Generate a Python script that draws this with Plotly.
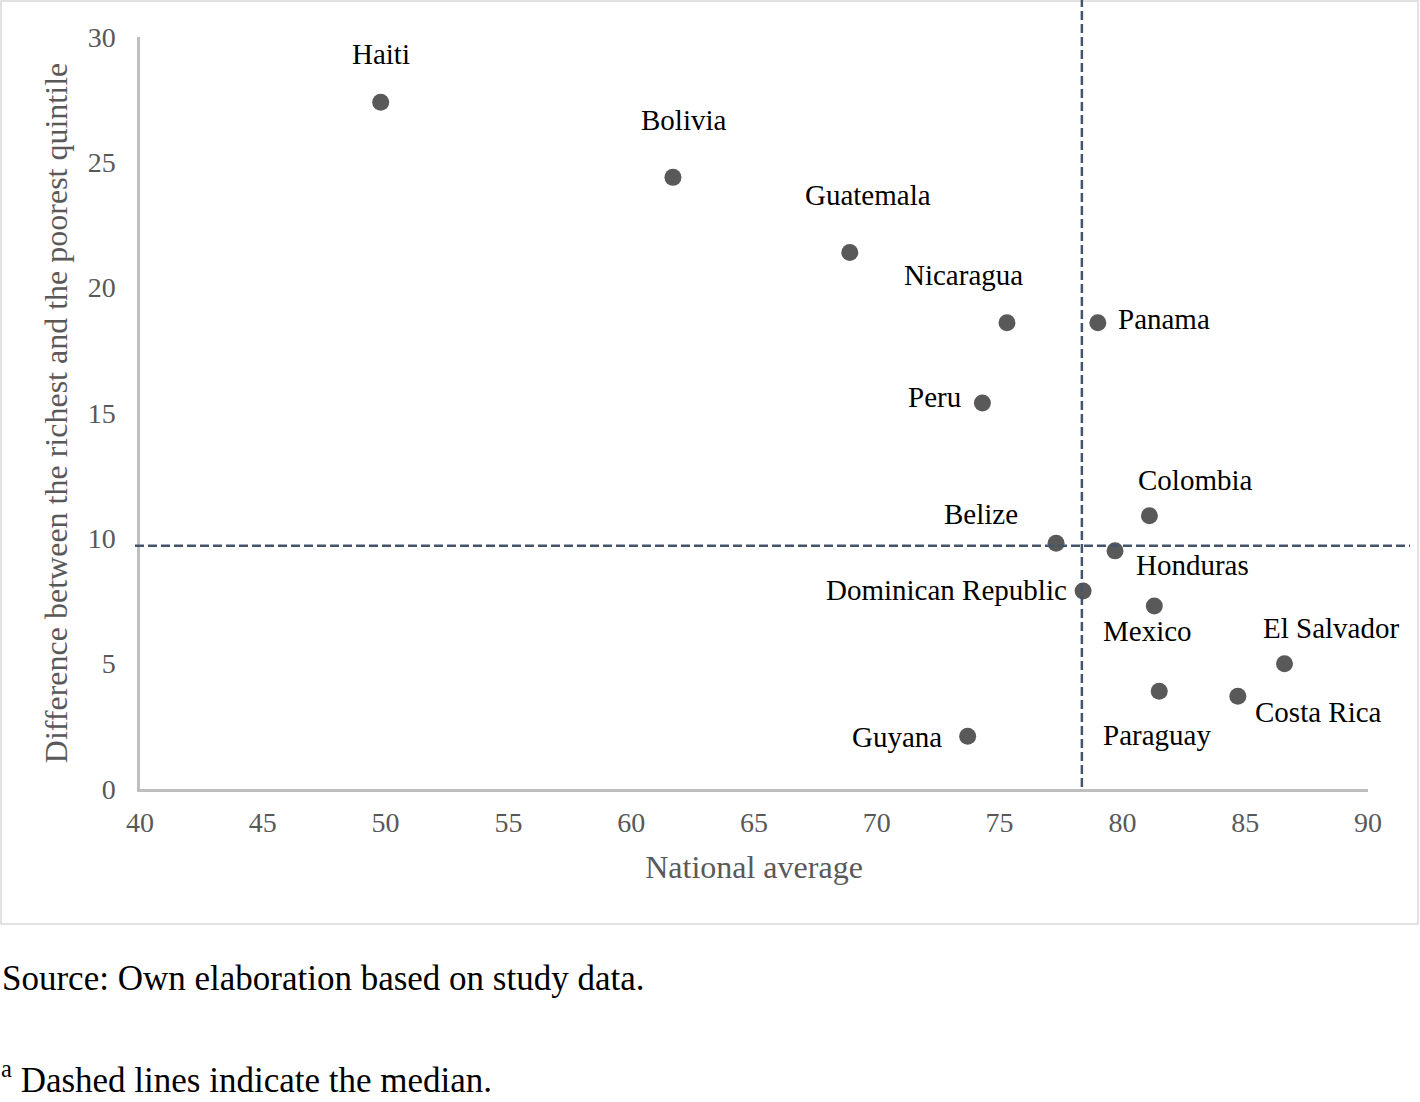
import plotly.graph_objects as go

countries = ["Haiti", "Bolivia", "Guatemala", "Nicaragua", "Panama", "Peru", "Colombia",
             "Belize", "Honduras", "Dominican Republic", "Mexico", "El Salvador",
             "Paraguay", "Costa Rica", "Guyana"]
national_avg = [49.8, 61.7, 68.9, 75.3, 79.0, 74.3, 81.1, 77.3, 79.7, 78.4, 81.3, 86.6, 81.5, 84.7, 73.7]
gap_rich_poor = [27.4, 24.4, 21.4, 18.6, 18.6, 15.4, 10.9, 9.8, 9.5, 7.9, 7.3, 5.0, 3.9, 3.7, 2.1]
median_x = 78.35
median_y = 9.7

x_ticks = [40, 45, 50, 55, 60, 65, 70, 75, 80, 85, 90]
y_ticks = [0, 5, 10, 15, 20, 25, 30]

# label offsets in pixels (dx, dy; dy positive = up)
label_offsets = [(0, 48), (11, 57), (18, 58), (-43, 48), (66, 4), (-48, 6), (46, 36),
                 (-75, 29), (77, -14), (-137, 1), (-7, -25), (46, 36), (-2, -44),
                 (81, -16), (-71, -1)]

W, H = 1420, 1102
L, R, T, B = 140, 1368, 37, 789
def px(xp):
    return (xp - L) / (R - L)
def py(yp):
    return (B - yp) / (B - T)

FONT = "Liberation Serif, Times New Roman, serif"

fig = go.Figure()
fig.add_trace(go.Scatter(
    x=national_avg, y=gap_rich_poor, mode="markers",
    marker=dict(size=17, color="#595959"),
    text=countries, hoverinfo="text", showlegend=False, cliponaxis=False))

for name, xv, yv, (dx, dy) in zip(countries, national_avg, gap_rich_poor, label_offsets):
    fig.add_annotation(x=xv, y=yv, xref="x", yref="y", text=name, showarrow=False,
                       xshift=dx, yshift=dy, font=dict(family=FONT, size=29, color="#000000"))

# median lines
fig.add_shape(type="line", xref="x", yref="paper", x0=median_x, x1=median_x,
              y0=py(787), y1=py(0), line=dict(color="#44546A", width=2.5, dash="9px,4px"))
fig.add_shape(type="line", xref="paper", yref="y", x0=px(135), x1=px(1410),
              y0=median_y, y1=median_y, line=dict(color="#44546A", width=2.5, dash="9px,4px"))

# chart border
fig.add_shape(type="rect", xref="paper", yref="paper", x0=px(1), x1=px(1418),
              y0=py(924), y1=py(1), line=dict(color="#D9D9D9", width=1.5), layer="below")

fig.add_annotation(xref="paper", yref="paper", x=px(0), y=py(978), xanchor="left", yanchor="middle",
                   text="Source: Own elaboration based on study data.", showarrow=False,
                   font=dict(family=FONT, size=35, color="#000000"))
fig.add_annotation(xref="paper", yref="paper", x=px(0), y=py(1101), xanchor="left", yanchor="bottom",
                   text="<sup>a</sup> Dashed lines indicate the median.", showarrow=False,
                   borderpad=0, font=dict(family=FONT, size=35, color="#000000"))

fig.update_layout(
    width=W, height=H,
    margin=dict(l=L, r=W - R, t=T, b=H - B),
    paper_bgcolor="white", plot_bgcolor="white",
    font=dict(family=FONT, color="#595959"),
    xaxis=dict(range=[40, 90], tickvals=x_ticks, showgrid=False, zeroline=False,
               showline=True, linecolor="#BFBFBF", linewidth=2.5,
               ticks="outside", ticklen=7, tickcolor="rgba(0,0,0,0)",
               tickfont=dict(size=28, color="#595959"),
               title=dict(text="National average", font=dict(size=32, color="#595959"), standoff=19)),
    yaxis=dict(range=[0, 30], tickvals=y_ticks, showgrid=False, zeroline=False,
               showline=True, linecolor="#BFBFBF", linewidth=2.5,
               ticks="outside", ticklen=16, tickcolor="rgba(0,0,0,0)",
               tickfont=dict(size=28, color="#595959"),
               title=dict(text="Difference between the richest and the poorest quintile",
                          font=dict(size=32, color="#595959"), standoff=11)),
)

fig.write_html("out.html", config={"displayModeBar": False},
               post_script="document.body.style.margin='0';document.body.style.padding='0';")
